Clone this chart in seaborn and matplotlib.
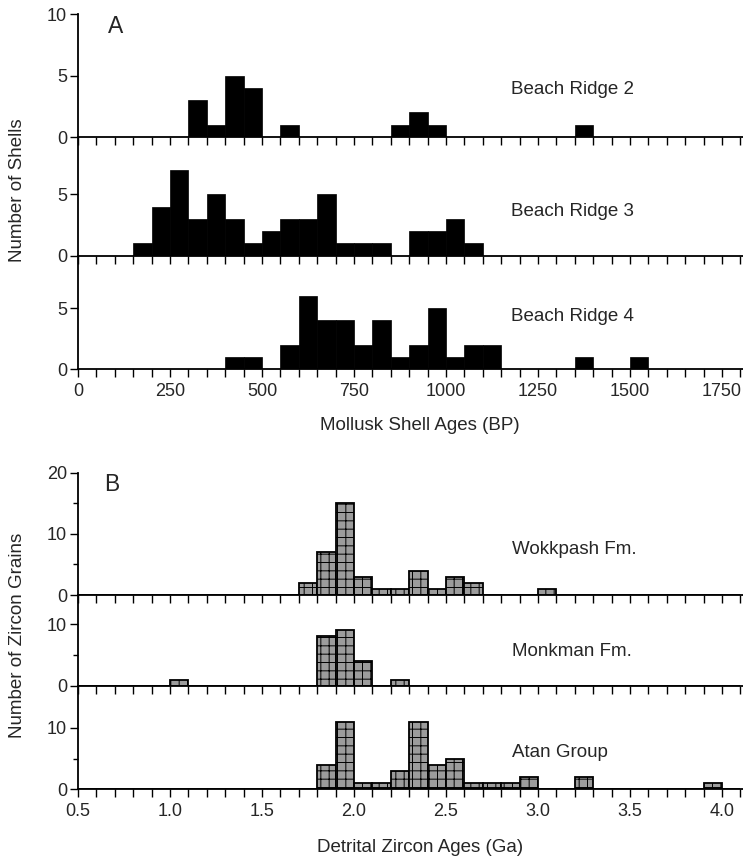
import numpy as np
import pandas as pd
import matplotlib
matplotlib.use("Agg")
import matplotlib.pyplot as plt
from matplotlib.ticker import MultipleLocator, FixedLocator
import seaborn as sns

sns.set_theme(style="white")
plt.rcParams['font.family'] = ['Liberation Sans', 'DejaVu Sans']
plt.rcParams['hatch.color'] = 'black'
plt.rcParams['hatch.linewidth'] = 0.7

# ---------------- data ----------------
# Panel A: mollusk shell ages (BP), 50-yr bins (left edges) and counts
ridge2_bins = [300, 350, 400, 450, 550, 850, 900, 950, 1350]
ridge2_counts = [3, 1, 5, 4, 1, 1, 2, 1, 1]
ridge3_bins = [150, 200, 250, 300, 350, 400, 450, 500, 550, 600, 650, 700, 750, 800,
               900, 950, 1000, 1050]
ridge3_counts = [1, 4, 7, 3, 5, 3, 1, 2, 3, 3, 5, 1, 1, 1, 2, 2, 3, 1]
ridge4_bins = [400, 450, 550, 600, 650, 700, 750, 800, 850, 900, 950, 1000, 1050, 1100,
               1350, 1500]
ridge4_counts = [1, 1, 2, 6, 4, 4, 2, 4, 1, 2, 5, 1, 2, 2, 1, 1]
shell_labels = ["Beach Ridge 2", "Beach Ridge 3", "Beach Ridge 4"]

# Panel B: detrital zircon ages (Ga), 0.1-Ga bins (left edges) and counts
wokkpash_bins = [1.7, 1.8, 1.9, 2.0, 2.1, 2.2, 2.3, 2.4, 2.5, 2.6, 3.0]
wokkpash_counts = [2, 7, 15, 3, 1, 1, 4, 1, 3, 2, 1]
monkman_bins = [1.0, 1.8, 1.9, 2.0, 2.2]
monkman_counts = [1, 8, 9, 4, 1]
atan_bins = [1.8, 1.9, 2.0, 2.1, 2.2, 2.3, 2.4, 2.5, 2.6, 2.7, 2.8, 2.9, 3.2, 3.9]
atan_counts = [4, 11, 1, 1, 3, 11, 4, 5, 1, 1, 1, 2, 2, 1]
zircon_labels = ["Wokkpash Fm.", "Monkman Fm.", "Atan Group"]

shell_width = 50
zircon_width = 0.1

# ---------------- layout ----------------
W, H = 743, 858
fig = plt.figure(figsize=(W / 100, H / 100), dpi=100)

def add_ax(top, bottom, left=78, right=743):
    return fig.add_axes([left / W, 1 - bottom / H, (right - left) / W, (bottom - top) / H])

rowsA = [(14.3, 137, 10.0), (137, 255.7, 9.67), (255.7, 369.3, 9.31)]
rowsB = [(472.7, 595, 20.0), (595, 686, 14.7), (686, 789.3, 16.8)]

FS_TICK = 13
FS_TEXT = 13.5

def style(ax, ylim, yticks, last, minor_y=None):
    ax.set_ylim(0, ylim)
    ax.patch.set_visible(False)
    for s in ['top', 'right']:
        ax.spines[s].set_visible(False)
    for s in ['left', 'bottom']:
        ax.spines[s].set_color('black')
        ax.spines[s].set_linewidth(1.3)
    ax.yaxis.set_major_locator(FixedLocator(yticks))
    if minor_y is not None:
        ax.yaxis.set_minor_locator(FixedLocator(minor_y))
    ax.tick_params(axis='y', which='major', direction='out', length=6, width=1,
                   color='black', labelsize=FS_TICK, pad=2, left=True)
    ax.tick_params(axis='y', which='minor', direction='out', length=3.5, width=1,
                   color='black', left=True)
    ax.tick_params(axis='x', which='both', direction='out', length=6, width=1,
                   color='black', labelsize=FS_TICK, bottom=True, pad=4,
                   labelbottom=last)
    ax.set_ylabel("")
    ax.set_xlabel("")
    ax.grid(False)

# ---------- Panel A ----------
shell_data = [(ridge2_bins, ridge2_counts), (ridge3_bins, ridge3_counts),
              (ridge4_bins, ridge4_counts)]
edgesA = [float(v) for v in np.arange(0, 1800 + shell_width, shell_width)]
axesA = []
for i, ((bins, counts), (top, bot, ylim)) in enumerate(zip(shell_data, rowsA)):
    ax = add_ax(top, bot)
    ax.set_zorder(10 - i)
    df = pd.DataFrame({"age": np.array(bins, dtype=float) + shell_width / 2,
                       "n": np.array(counts, dtype=float)})
    sns.histplot(data=df, x="age", weights="n", bins=edgesA, ax=ax, color='black',
                 alpha=1, edgecolor='black', linewidth=0.5)
    ax.set_xlim(0, 1807)
    ax.xaxis.set_major_locator(MultipleLocator(250))
    ax.xaxis.set_minor_locator(MultipleLocator(50))
    style(ax, ylim, [0, 5, 10] if i == 0 else [0, 5], last=(i == 2))
    ax.text(1177, [3.9, 3.6, 4.35][i], shell_labels[i], fontsize=FS_TEXT,
            ha='left', va='center')
    axesA.append(ax)
axesA[-1].set_xlabel("Mollusk Shell Ages (BP)", fontsize=FS_TEXT, labelpad=6)
axesA[-1].xaxis.set_label_coords((420 - 78) / 665, -0.42)
axesA[0].text(0.045, 0.9, "A", transform=axesA[0].transAxes, fontsize=16.5,
              ha='left', va='center')

# ---------- Panel B ----------
zircon_data = [(wokkpash_bins, wokkpash_counts), (monkman_bins, monkman_counts),
               (atan_bins, atan_counts)]
edgesB = [float(v) for v in np.round(np.linspace(0.5, 4.1, 37), 3)]
axesB = []
for i, ((bins, counts), (top, bot, ylim)) in enumerate(zip(zircon_data, rowsB)):
    ax = add_ax(top, bot)
    ax.set_zorder(10 - i)
    df = pd.DataFrame({"age": np.array(bins, dtype=float) + zircon_width / 2,
                       "n": np.array(counts, dtype=float)})
    sns.histplot(data=df, x="age", weights="n", bins=edgesB, ax=ax, color='#9c9c9c',
                 alpha=1, edgecolor='black', linewidth=1.3, hatch='++')
    ax.set_xlim(0.5, 4.114)
    ax.xaxis.set_major_locator(MultipleLocator(0.5))
    ax.xaxis.set_minor_locator(MultipleLocator(0.1))
    ax.xaxis.set_major_formatter(matplotlib.ticker.FormatStrFormatter('%.1f'))
    if i == 0:
        style(ax, ylim, [0, 10, 20], last=False, minor_y=[5, 15])
    else:
        style(ax, ylim, [0, 10], last=(i == 2), minor_y=[5])
    ax.text(2.86, [7.4, 5.5, 6.05][i], zircon_labels[i], fontsize=FS_TEXT,
            ha='left', va='center')
    axesB.append(ax)
axesB[-1].set_xlabel("Detrital Zircon Ages (Ga)", fontsize=FS_TEXT, labelpad=6)
axesB[-1].xaxis.set_label_coords((420 - 78) / 665, -0.48)
axesB[0].text(0.04, 0.9, "B", transform=axesB[0].transAxes, fontsize=16.5,
              ha='left', va='center')

# shared y labels
fig.text(18 / W, 1 - 190 / H, "Number of Shells", rotation=90, fontsize=FS_TEXT,
         ha='center', va='center')
fig.text(18 / W, 1 - 635 / H, "Number of Zircon Grains", rotation=90,
         fontsize=FS_TEXT, ha='center', va='center')

fig.savefig("out.png", dpi=100, facecolor='white')
